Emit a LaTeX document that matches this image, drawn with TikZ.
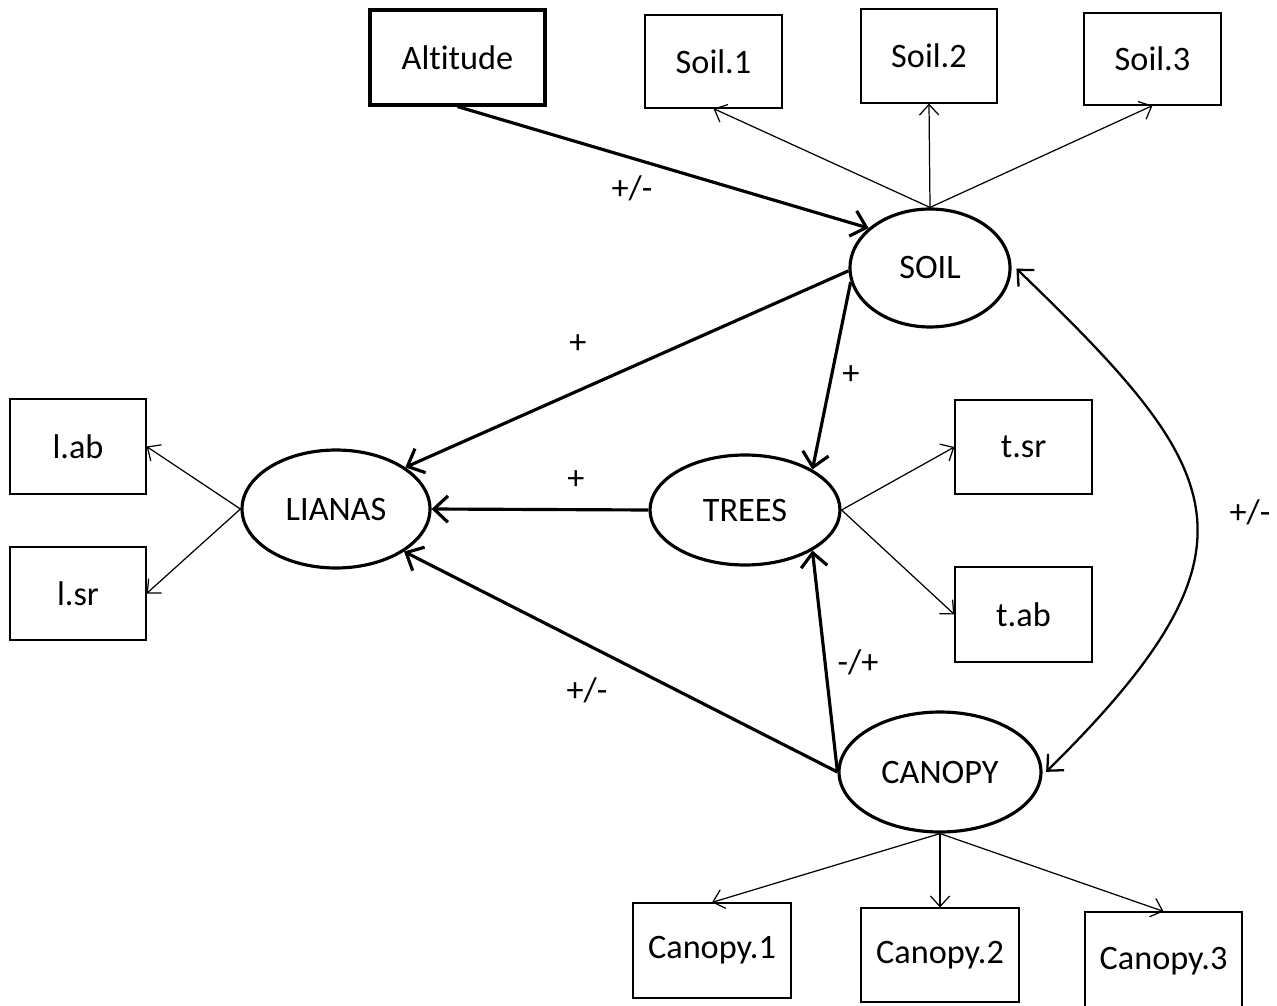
\documentclass[tikz,border=0pt]{standalone}
\usepackage{fontspec}
\setmainfont[Ligatures=CommonOff]{Carlito}
\usetikzlibrary{arrows.meta,shapes.geometric}
\begin{document}
\begin{tikzpicture}[x=0.02cm,y=-0.02cm,
  font=\fontsize{19.5}{22}\selectfont,
  box/.style={draw,line width=0.7pt,inner sep=0pt},
  lat/.style={draw,ellipse,line width=1.8pt,inner sep=0pt},
  thinarr/.style={line width=0.7pt,-{Straight Barb[length=6pt,width=11pt]}},
  thkarr/.style={line width=1.8pt,-{Straight Barb[length=8pt,width=15pt]}},
  lbl/.style={inner sep=0pt}]
\useasboundingbox (0,0) rectangle (1277,1006);
% observed boxes
\node[box,line width=1.8pt,minimum width=3.5cm,minimum height=1.9cm] (alt) at (457.5,57.5) {Altitude};
\node[box,minimum width=2.74cm,minimum height=1.86cm] (s1) at (713.5,61.5) {Soil.1};
\node[box,minimum width=2.72cm,minimum height=1.88cm] (s2) at (929,56) {Soil.2};
\node[box,minimum width=2.74cm,minimum height=1.84cm] (s3) at (1152.5,59) {Soil.3};
\node[box,minimum width=2.72cm,minimum height=1.9cm] (lab) at (78,446.5) {l.ab};
\node[box,minimum width=2.72cm,minimum height=1.86cm] (lsr) at (78,593.5) {l.sr};
\node[box,minimum width=2.74cm,minimum height=1.88cm] (tsr) at (1023.5,447) {t.sr};
\node[box,minimum width=2.74cm,minimum height=1.9cm] (tab) at (1023.5,614.5) {t.ab};
\node[box,minimum width=3.16cm,minimum height=1.9cm] (c1) at (712,950.5) {Canopy.1};
\node[box,minimum width=3.16cm,minimum height=1.88cm] (c2) at (940,955) {Canopy.2};
\node[box,minimum width=3.14cm,minimum height=1.96cm] (c3) at (1163.5,961) {Canopy.3};
% latent variables
\node[lat,minimum width=3.2cm,minimum height=2.36cm] (soil) at (930,268) {SOIL};
\node[lat,minimum width=3.76cm,minimum height=2.36cm] (lianas) at (336,509) {LIANAS};
\node[lat,minimum width=3.8cm,minimum height=2.2cm] (trees) at (745,510) {TREES};
\node[lat,minimum width=4.04cm,minimum height=2.4cm] (canopy) at (940,772) {CANOPY};
% measurement arrows
\draw[thinarr] (soil.north) -- (s1.south);
\draw[thinarr] (soil.north) -- (s2.south);
\draw[thinarr] (soil.north) -- (s3.south);
\draw[thinarr] (lianas.west) -- (lab.east);
\draw[thinarr] (lianas.west) -- (lsr.east);
\draw[thinarr] (trees.east) -- (tsr.west);
\draw[thinarr] (trees.east) -- (tab.west);
\draw[thinarr] (canopy.south) -- (c1.north);
\draw[thinarr] (canopy.south) -- (c2.north);
\draw[thinarr] (canopy.south) -- (c3.north);
% structural arrows
\draw[thkarr] (alt.south) -- (soil.147);
\draw[thkarr] (soil.182) -- (lianas.31);
\draw[thkarr] (soil.190) -- (trees.31);
\draw[thkarr] (trees.west) -- (lianas.east);
\draw[thkarr] (canopy.west) -- (lianas.-32);
\draw[thkarr] (canopy.west) -- (trees.-31);
\draw[line width=1.3pt,{Straight Barb[length=7pt,width=13pt]}-{Straight Barb[length=7pt,width=13pt]},shorten <=4pt,shorten >=3pt]
  (soil.3) .. controls (1225,470) and (1276,545) .. (canopy.-2);
% labels
\node[lbl] (l1) at (632,188) {+/-};
\node[lbl] (l2) at (578,344) {+};
\node[lbl] (l3) at (851,375) {+};
\node[lbl] (l4) at (576,480) {+};
\node[lbl] (l5) at (858,662) {-/+};
\node[lbl] (l6) at (587,690) {+/-};
\node[lbl] (l7) at (1250,512) {+/-};
\end{tikzpicture}
\end{document}
